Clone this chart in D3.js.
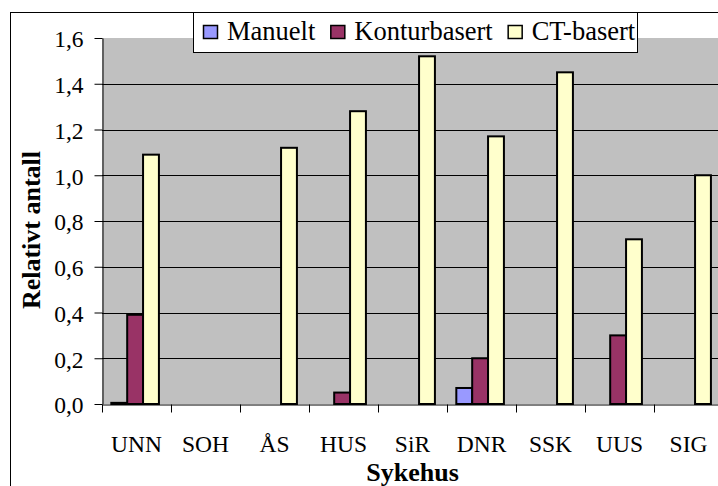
<!DOCTYPE html>
<html>
<head>
<meta charset="utf-8">
<script src="https://cdn.jsdelivr.net/npm/d3@7"></script>
<style>
    body { margin: 0; background: #fff; }
    svg { display: block; }
    text { font-family: "Liberation Serif", "Tinos", "Times New Roman", "DejaVu Serif", "Noto Serif", serif; fill: #000; }
</style>
</head>
<body>
<div id="graph"></div>
<script>
/*
    Data
*/
var categories = ["UNN", "SOH", "ÅS", "HUS", "SiR", "DNR", "SSK", "UUS", "SIG"]
var seriesNames = ["Manuelt", "Konturbasert", "CT-basert"]
var manuelt = [0.005, 0, 0, 0, 0, 0.07, 0, 0, 0]
var konturbasert = [0.39, 0, 0, 0.05, 0, 0.20, 0, 0.30, 0]
var ctBasert = [1.09, 0, 1.12, 1.28, 1.52, 1.17, 1.45, 0.72, 1.00]
var yTicks = [0, 0.2, 0.4, 0.6, 0.8, 1.0, 1.2, 1.4, 1.6]
var colors = ["#9999FF", "#993366", "#FFFFCC"]

/*
    Dimensions (the plot runs a bit past the right edge, like the original)
*/
var W = 718, H = 486
var plot = {left: 102, top: 38, right: 723, bottom: 404}

var svg = d3.select("#graph").append("svg")
            .attr("width", W)
            .attr("height", H)

// outer chart frame, cut by the window on right and bottom
svg.append("rect")
    .attr("x", 10.5).attr("y", 12.5)
    .attr("width", 800).attr("height", 600)
    .attr("fill", "#fff")
    .attr("stroke", "#000")
    .attr("stroke-width", 1)

/*
    Scales
*/
var x0 = d3.scaleBand()
           .domain(categories)
           .range([plot.left, plot.right])
           .padding(0)
var groupW = x0.bandwidth() * 0.69
var groupOff = x0.bandwidth() * 0.135
var x1 = d3.scaleBand()
           .domain(seriesNames)
           .range([0, groupW])
var y = d3.scaleLinear()
          .domain([0, 1.6])
          .range([plot.bottom, plot.top])

var locale = d3.formatLocale({decimal: ",", thousands: " ", grouping: [3], currency: ["", " kr"]})
var fmt = locale.format(".1f")

// plot area
svg.append("rect")
    .attr("x", plot.left).attr("y", plot.top)
    .attr("width", plot.right - plot.left)
    .attr("height", plot.bottom - plot.top)
    .attr("fill", "#C0C0C0")

// gridlines
svg.append("g")
    .selectAll("line")
    .data(yTicks.filter(function(d) { return d > 0 && d < 1.6 }))
    .enter().append("line")
    .attr("x1", plot.left).attr("x2", plot.right)
    .attr("y1", function(d) { return Math.round(y(d)) + 0.5 })
    .attr("y2", function(d) { return Math.round(y(d)) + 0.5 })
    .attr("stroke", "#000")
    .attr("stroke-width", 1)

/*
    Bars
*/
var rows = categories.map(function(c, i) {
    return {cat: c, values: [manuelt[i], konturbasert[i], ctBasert[i]]}
})

var groups = svg.append("g").selectAll("g")
    .data(rows)
    .enter().append("g")
    .attr("transform", function(d) { return "translate(" + (x0(d.cat) + groupOff) + ",0)" })

groups.selectAll("rect")
    .data(function(d) {
        return d.values.map(function(v, j) { return {name: seriesNames[j], v: v, c: colors[j]} })
                       .filter(function(e) { return e.v > 0 })
    })
    .enter().append("rect")
    .attr("x", function(d) { return x1(d.name) })
    .attr("y", function(d) { return y(d.v) })
    .attr("width", x1.bandwidth())
    .attr("height", function(d) { return y(0) - y(d.v) })
    .attr("fill", function(d) { return d.c })
    .attr("stroke", "#000")
    .attr("stroke-width", 2)

/*
    Axes
*/
var yAxis = svg.append("g")
    .attr("transform", "translate(" + (plot.left + 0.5) + ",0)")
    .call(d3.axisLeft(y).tickValues(yTicks).tickFormat(fmt).tickSize(8).tickSizeOuter(0).tickPadding(11))
yAxis.attr("font-family", null)
yAxis.select(".domain").attr("stroke", "#000")
yAxis.selectAll(".tick line").attr("stroke", "#000")
yAxis.selectAll("text")
    .attr("font-size", 23.5)
    .attr("dy", "0.38em")

var xAxis = svg.append("g")
    .attr("transform", "translate(0," + (plot.bottom + 0.5) + ")")
    .call(d3.axisBottom(x0).tickSize(0).tickSizeOuter(0))
xAxis.attr("font-family", null)
xAxis.select(".domain").attr("stroke", "#000")
xAxis.selectAll("text")
    .attr("font-size", 23.5)
    .attr("y", 47.5)
    .attr("dy", 0)

// category boundary ticks
xAxis.selectAll(".bound")
    .data(categories)
    .enter().append("line")
    .attr("class", "bound")
    .attr("x1", function(d) { return Math.round(x0(d)) + 0.5 })
    .attr("x2", function(d) { return Math.round(x0(d)) + 0.5 })
    .attr("y1", 0).attr("y2", 8)
    .attr("stroke", "#000")

/*
    Axis titles
*/
svg.append("text")
    .attr("x", (plot.left + plot.right) / 2)
    .attr("y", 481)
    .attr("text-anchor", "middle")
    .attr("font-weight", "bold")
    .attr("font-size", 26)
    .text("Sykehus")

svg.append("text")
    .attr("transform", "translate(40,230) rotate(-90)")
    .attr("text-anchor", "middle")
    .attr("font-weight", "bold")
    .attr("font-size", 26)
    .text("Relativt antall")

/*
    Legend
*/
var legend = svg.append("g")
legend.append("rect")
    .attr("class", "legend-box")
    .attr("x", 193.5).attr("y", 12.5)
    .attr("width", 444).attr("height", 40)
    .attr("fill", "#fff")
    .attr("stroke", "#000")

var lx = 203.5
seriesNames.forEach(function(name, i) {
    legend.append("rect")
        .attr("x", lx).attr("y", 25.5)
        .attr("width", 14).attr("height", 13)
        .attr("fill", colors[i])
        .attr("stroke", "#000")
        .attr("stroke-width", 1.5)
    var t = legend.append("text")
        .attr("x", lx + 23.5)
        .attr("y", 40)
        .attr("font-size", 26.5)
        .text(name)
    lx += 23.5 + t.node().getComputedTextLength() + 15.5
})
</script>
</body>
</html>
